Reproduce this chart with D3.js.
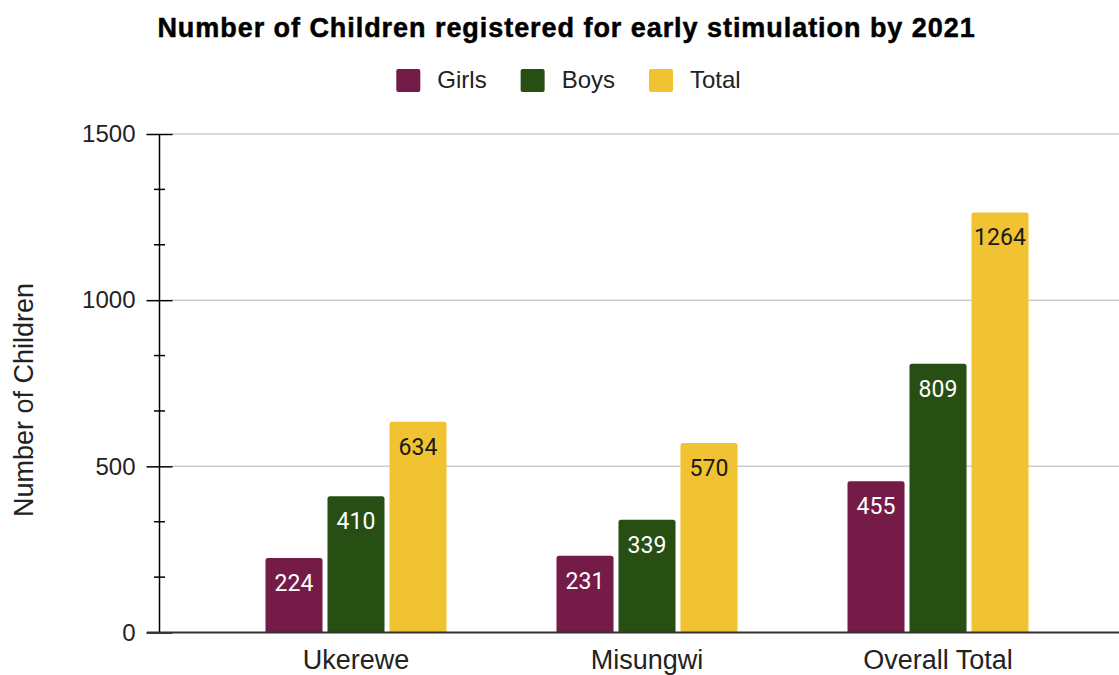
<!DOCTYPE html>
<html>
<head>
<meta charset="utf-8">
<script src="https://cdn.jsdelivr.net/npm/d3@7"></script>
<style>
  html, body { margin: 0; padding: 0; background: #fff; }
  svg { display: block; }
</style>
</head>
<body>
<svg id="chart" width="1119" height="675"></svg>
<script>
// Registered children per district, split by sex
const categories = ["Ukerewe", "Misungwi", "Overall Total"];
const seriesNames = ["Girls", "Boys", "Total"];
const girls = [224, 231, 455];
const boys = [410, 339, 809];
const total = [634, 570, 1264];
const yTicks = [0, 500, 1000, 1500];
const yMinorTicks = [166.67, 333.33, 666.67, 833.33, 1166.67, 1333.33];

const colors = { Girls: "#741b47", Boys: "#274e13", Total: "#f1c232" };
const labelColors = { Girls: "#ffffff", Boys: "#ffffff", Total: "#1a1a1a" };

const rows = categories.map((c, i) => ({
  category: c,
  values: [
    { key: "Girls", value: girls[i] },
    { key: "Boys", value: boys[i] },
    { key: "Total", value: total[i] }
  ]
}));

const svg = d3.select("#chart");
const W = 1119;
const axisX = 159.5;
const gridRight = W;

const y = d3.scaleLinear().domain([0, 1500]).range([632.5, 134]);
const x0 = d3.scaleBand().domain(categories).range([210.5, 1083.5])
  .paddingInner(0.378).paddingOuter(0.189);
const x1 = d3.scaleBand().domain(seriesNames).range([0, x0.bandwidth()])
  .paddingInner(0.08);

const sans = "'Liberation Sans', Arial, sans-serif";

// Title
svg.append("text")
  .attr("x", 566.5).attr("y", 37)
  .attr("text-anchor", "middle")
  .attr("font-family", sans)
  .attr("font-weight", "bold")
  .attr("font-size", 27)
  .attr("letter-spacing", 0.95)
  .attr("fill", "#000")
  .attr("stroke", "#000").attr("stroke-width", 0.5)
  .text("Number of Children registered for early stimulation by 2021");

// Legend
const legend = svg.append("g");
let lx = 0;
seriesNames.forEach((name, i) => {
  const g = legend.append("g").attr("transform", `translate(${lx},0)`);
  g.append("rect").attr("x", 0).attr("y", 69).attr("width", 24).attr("height", 23)
    .attr("rx", 2).attr("fill", colors[name]);
  const t = g.append("text").attr("x", 41).attr("y", 88)
    .attr("font-family", sans).attr("font-size", 24).attr("fill", "#222").text(name);
  lx += 41 + t.node().getComputedTextLength() + 34;
});
const legendWidth = lx - 34;
legend.attr("transform", `translate(${568.5 - legendWidth / 2},0)`);

// Gridlines
svg.append("g").selectAll("line")
  .data(yTicks.filter(d => d > 0))
  .join("line")
  .attr("x1", axisX + 12).attr("x2", gridRight)
  .attr("y1", d => y(d)).attr("y2", d => y(d))
  .attr("stroke", "#cccccc").attr("stroke-width", 1.5);

// Y axis
const yAxis = svg.append("g")
  .attr("transform", `translate(${axisX},0)`)
  .call(d3.axisLeft(y).tickValues(yTicks).tickSize(13).tickPadding(11).tickFormat(d3.format("d")));
yAxis.select(".domain").remove();
yAxis.selectAll(".tick line").attr("x2", -13).attr("x1", 13)
  .attr("stroke", "#000").attr("stroke-width", 1.5);
yAxis.selectAll(".tick text")
  .attr("font-family", sans).attr("font-size", 24).attr("fill", "#222");

// Minor ticks
svg.append("g").selectAll("line")
  .data(yMinorTicks)
  .join("line")
  .attr("x1", axisX - 5.5).attr("x2", axisX + 5.5)
  .attr("y1", d => y(d)).attr("y2", d => y(d))
  .attr("stroke", "#000").attr("stroke-width", 1.5);

// Axis line
svg.append("line")
  .attr("x1", axisX).attr("x2", axisX)
  .attr("y1", y(1500)).attr("y2", y(0))
  .attr("stroke", "#000").attr("stroke-width", 1.5);

// Y axis title
svg.append("text")
  .attr("transform", `translate(33,400) rotate(-90)`)
  .attr("text-anchor", "middle")
  .attr("font-family", sans).attr("font-size", 27).attr("fill", "#222")
  .text("Number of Children");

// Bars
const groups = svg.append("g").selectAll("g")
  .data(rows)
  .join("g")
  .attr("transform", d => `translate(${x0(d.category)},0)`);

groups.selectAll("path")
  .data(d => d.values)
  .join("path")
  .attr("fill", d => colors[d.key])
  .attr("d", d => {
    const bx = x1(d.key), bw = x1.bandwidth();
    const top = y(d.value), bottom = y(0), r = 2.5;
    return `M${bx},${bottom}V${top + r}Q${bx},${top} ${bx + r},${top}` +
      `H${bx + bw - r}Q${bx + bw},${top} ${bx + bw},${top + r}V${bottom}Z`;
  });

groups.selectAll("text")
  .data(d => d.values)
  .join("text")
  .attr("x", d => x1(d.key) + x1.bandwidth() / 2)
  .attr("y", d => y(d.value) + 33)
  .attr("text-anchor", "middle")
  .attr("font-family", "Roboto, sans-serif")
  .attr("font-size", 23)
  .attr("fill", d => labelColors[d.key])
  .text(d => d.value);

// Baseline
svg.append("line")
  .attr("x1", axisX - 12.5).attr("x2", gridRight)
  .attr("y1", y(0)).attr("y2", y(0))
  .attr("stroke", "#333").attr("stroke-width", 2);

// Category labels
svg.append("g").selectAll("text")
  .data(categories)
  .join("text")
  .attr("x", d => x0(d) + x0.bandwidth() / 2)
  .attr("y", 669)
  .attr("text-anchor", "middle")
  .attr("font-family", sans).attr("font-size", 27).attr("fill", "#222")
  .text(d => d);
</script>
</body>
</html>
